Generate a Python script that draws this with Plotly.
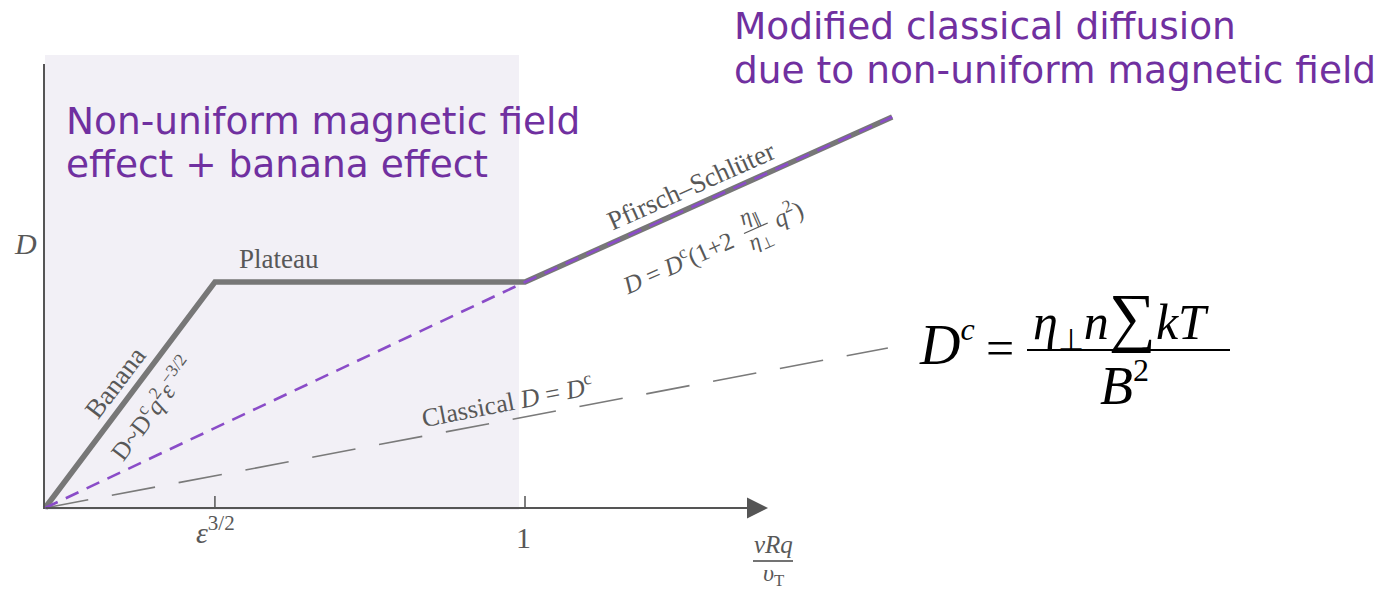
import math
import plotly.graph_objects as go

# ---- data (x in units of nu*R*q/v_T, D in units of plateau level) ----
regime_x = [0.0, 0.354, 1.0, 1.765]          # banana -> plateau -> knee -> Pfirsch-Schlüter end
regime_D = [0.0, 1.0, 1.0, 1.73]
modified_x = [0.0, 1.0, 1.765]                # purple dashed: modified classical diffusion
modified_D = [0.0, 1.0, 1.73]
classical_x = [0.0, 1.756]                    # classical D = D^c
classical_D = [0.0, 0.708]
tick_vals = [0.354, 1.0]

# pixel <-> data helpers for layout placement
W, H = 1379, 590
OX, OY, UX, UY = 45, 508, 480, 226
def dx(px): return (px - OX) / UX
def dy(py): return (OY - py) / UY

GRAY_TXT = "#585858"
SERIF = "Liberation Serif, Times New Roman, serif"
PURPLE = "#7030A0"

fig = go.Figure()
fig.add_trace(go.Scatter(x=classical_x, y=classical_D, mode="lines",
                         line=dict(color="#7a7a7a", width=1.6, dash="44px,24px"),
                         hoverinfo="skip"))
fig.add_trace(go.Scatter(x=regime_x, y=regime_D, mode="lines",
                         line=dict(color="#777777", width=5.5),
                         hoverinfo="skip"))
fig.add_trace(go.Scatter(x=modified_x, y=modified_D, mode="lines",
                         line=dict(color="#8A4CC8", width=2.6, dash="14px,9px"),
                         hoverinfo="skip"))

shapes = [
    dict(type="rect", xref="x", yref="y", x0=dx(45), x1=dx(519), y0=dy(510), y1=dy(55),
         fillcolor="#F2F0F6", line_width=0, layer="below"),
    dict(type="line", xref="x", yref="y", x0=dx(44), x1=dx(44), y0=dy(509), y1=dy(64),
         line=dict(color="#555555", width=2)),
]
for tv in tick_vals:
    shapes.append(dict(type="line", xref="x", yref="y", x0=tv, x1=tv, y0=0, y1=dy(496),
                       line=dict(color="#555555", width=1.5)))
# vRq / v_T fraction bar
shapes.append(dict(type="line", xref="x", yref="y", x0=dx(753), x1=dx(793), y0=dy(561), y1=dy(561),
                   line=dict(color="#444444", width=1.5)))
# D^c formula fraction bar
shapes.append(dict(type="line", xref="x", yref="y", x0=dx(1027), x1=dx(1230), y0=dy(350), y1=dy(350),
                   line=dict(color="black", width=2)))

ann = []
def txt(px, py, text, size, color=GRAY_TXT, family=SERIF, angle=0, xanchor="center", yanchor="middle", align="center"):
    ann.append(dict(x=dx(px), y=dy(py), xref="x", yref="y", text=text, showarrow=False,
                    font=dict(size=size, color=color, family=family), textangle=angle,
                    xanchor=xanchor, yanchor=yanchor, align=align))

# x axis with arrow
ann.append(dict(x=dx(768), y=0, ax=dx(44), ay=0, xref="x", yref="y", axref="x", ayref="y",
                text="", showarrow=True, arrowhead=2, arrowsize=2.1, arrowwidth=2,
                arrowcolor="#555555"))

# tick labels and axis titles
txt(215, 530, "<i>ε</i><sup>3/2</sup>", 30)
txt(523, 537, "1", 30)
txt(773, 544, "<i>νRq</i>", 25)
txt(773, 575, "<i>υ</i><sub>T</sub>", 24)
txt(25, 243, "<i>D</i>", 30)

# regime labels
txt(279, 259, "Plateau", 27)
txt(115, 383, "Banana", 27, angle=-53)
txt(151, 408, "D~D<sup>c</sup><i>q</i><sup>2</sup><i>ε</i><sup>−3/2</sup>", 25, angle=-53)
txt(691, 186, "Pfirsch–Schlüter", 27, angle=-24)
txt(507, 400, "Classical <i>D</i> = <i>D</i><sup>c</sup>", 26, angle=-11)

# rotated Pfirsch-Schlüter formula with stacked fraction
ang = math.radians(24)
ux, uy = math.cos(ang), -math.sin(ang)
nx, ny = math.sin(ang), math.cos(ang)
CX, CY = 718, 244
def along(s, t): return CX + s * ux + t * nx, CY + s * uy + t * ny
p = along(-44, 0)
txt(p[0], p[1], "<i>D</i> = <i>D</i><sup>c</sup>(1+2", 25, angle=-24)
p = along(40, -12)
txt(p[0], p[1], "<i>η</i><sub>∥</sub>", 22, angle=-24)
p = along(41, 14)
txt(p[0], p[1], "<i>η</i><sub>⊥</sub>", 22, angle=-24)
a0, a1 = along(28, 1), along(54, 1)
shapes.append(dict(type="line", xref="x", yref="y", x0=dx(a0[0]), y0=dy(a0[1]), x1=dx(a1[0]), y1=dy(a1[1]),
                   line=dict(color=GRAY_TXT, width=1.2)))
p = along(77, 0)
txt(p[0], p[1], "<i>q</i><sup>2</sup>)", 25, angle=-24)

# purple explanatory text (one annotation per line)
SANS = "DejaVu Sans, Verdana, sans-serif"
txt(64, 121, "Non-uniform magnetic field", 37.5, color=PURPLE, family=SANS, xanchor="left")
txt(64, 164, "effect + banana effect", 37.5, color=PURPLE, family=SANS, xanchor="left")
txt(732, 26, "Modified classical diffusion", 37.5, color=PURPLE, family=SANS, xanchor="left")
txt(732, 70, "due to non-uniform magnetic field", 37.5, color=PURPLE, family=SANS, xanchor="left")

# D^c formula
txt(947, 343, "<i>D</i><sup><span style='font-size:32px'><i>c</i></span></sup>", 56, color="black")
txt(1000, 348, "=", 50, color="black")
txt(1121, 318, "<i>η</i><sub><span style='font-size:30px'>⊥</span></sub><i>n</i>"
               "<span style='font-size:66px'>∑</span><i>kT</i>", 50, color="black")
txt(1124, 384, "<i>B</i><sup><span style='font-size:32px'>2</span></sup>", 54, color="black")

fig.update_layout(
    width=W, height=H, margin=dict(l=0, r=0, t=0, b=0),
    paper_bgcolor="white", plot_bgcolor="white", showlegend=False,
    xaxis=dict(range=[dx(0), dx(W)], visible=False, fixedrange=True),
    yaxis=dict(range=[dy(H), dy(0)], visible=False, fixedrange=True),
    shapes=shapes, annotations=ann,
)
fig.write_html("out.html", config={"displayModeBar": False},
               post_script="document.body.style.margin='0';")
